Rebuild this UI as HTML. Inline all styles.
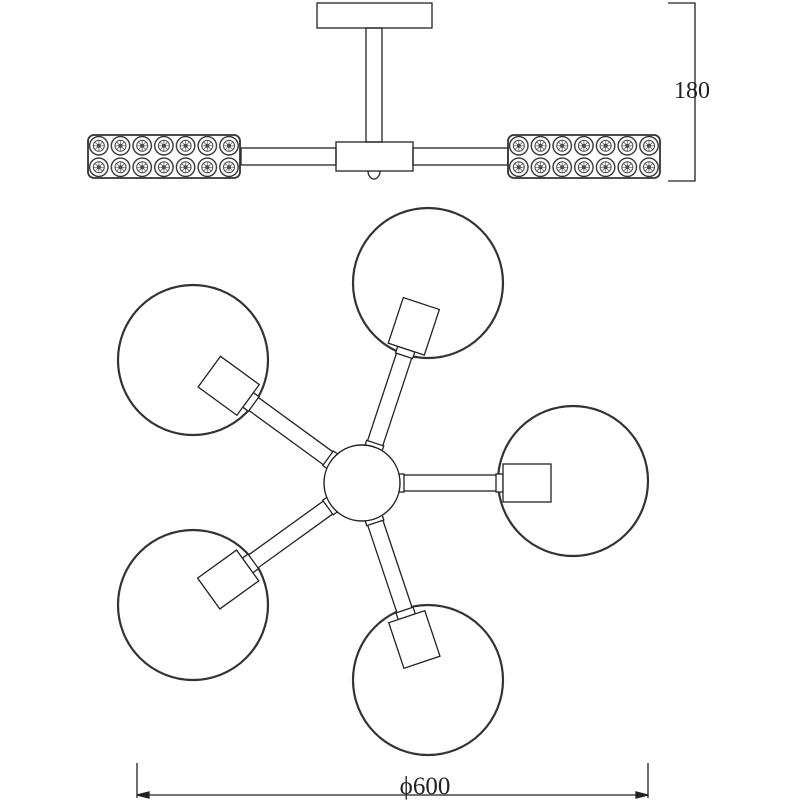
<!DOCTYPE html>
<html><head><style>body{margin:0;background:#fff}svg{display:block}</style></head>
<body>
<svg width="800" height="800" viewBox="0 0 800 800" xmlns="http://www.w3.org/2000/svg">
<defs>
<g id="cell">
<circle cx="10.8" cy="10.8" r="9.2" fill="none" stroke="#333" stroke-width="1.4"/>
<circle cx="10.8" cy="10.8" r="5.5" fill="none" stroke="#444" stroke-width="1"/>
<circle cx="10.8" cy="10.8" r="2" fill="#222"/>
<path d="M10.8 5.3V16.3M5.3 10.8H16.3M7 7L14.6 14.6M14.6 7L7 14.6" stroke="#555" stroke-width="0.7"/>
</g>
<pattern id="p" x="88" y="135" width="21.7" height="21.5" patternUnits="userSpaceOnUse"><use href="#cell"/></pattern>
<pattern id="p2" x="508" y="135" width="21.7" height="21.5" patternUnits="userSpaceOnUse"><use href="#cell"/></pattern>
<g id="arm" fill="#fff" stroke="#222" stroke-width="1.3">
<rect x="36" y="-8" width="104" height="16"/>
<rect x="36" y="-9" width="6" height="18"/>
<rect x="134" y="-9" width="7" height="18"/>
<rect x="141" y="-19" width="48" height="38"/>
</g>
</defs>
<g fill="none" stroke="#222" stroke-width="1.3">
<rect x="317" y="3" width="115" height="25"/>
<rect x="366" y="28" width="16" height="114"/>
<rect x="241" y="148" width="95" height="17"/>
<rect x="413" y="148" width="95" height="17"/>
<rect x="336" y="142" width="77" height="29"/>
<path d="M368 171a6 8 0 0 0 12 0"/>
<rect x="88" y="135" width="152" height="43" rx="6" fill="url(#p)" stroke="#333" stroke-width="1.8"/>
<rect x="508" y="135" width="152" height="43" rx="6" fill="url(#p2)" stroke="#333" stroke-width="1.8"/>
<path d="M668 3H695V181H668M695 3V181"/>
</g>
<text x="692" y="98" font-family="Liberation Serif, serif" font-size="24" text-anchor="middle" fill="#222">180</text>
<g fill="none" stroke="#333" stroke-width="2.2">
<circle cx="428" cy="283" r="75"/>
<circle cx="193" cy="360" r="75"/>
<circle cx="573" cy="481" r="75"/>
<circle cx="193" cy="605" r="75"/>
<circle cx="428" cy="680" r="75"/>
</g>
<g transform="translate(362,483)">
<use href="#arm" transform="rotate(0)"/>
<use href="#arm" transform="rotate(-71.7)"/>
<use href="#arm" transform="rotate(-143.9)"/>
<use href="#arm" transform="rotate(144.2)"/>
<use href="#arm" transform="rotate(71.5)"/>
<circle r="38" fill="#fff" stroke="#222" stroke-width="1.4"/>
</g>
<g stroke="#222" stroke-width="1.3" fill="none">
<path d="M137 763V798M648 763V798M137 795H648"/>
<path d="M137 795l12-3v6zM648 795l-12-3v6z" fill="#222"/>
</g>
<text x="425" y="794" font-family="Liberation Serif, serif" font-size="25" text-anchor="middle" fill="#222">ϕ600</text>
</svg>
</body></html>
